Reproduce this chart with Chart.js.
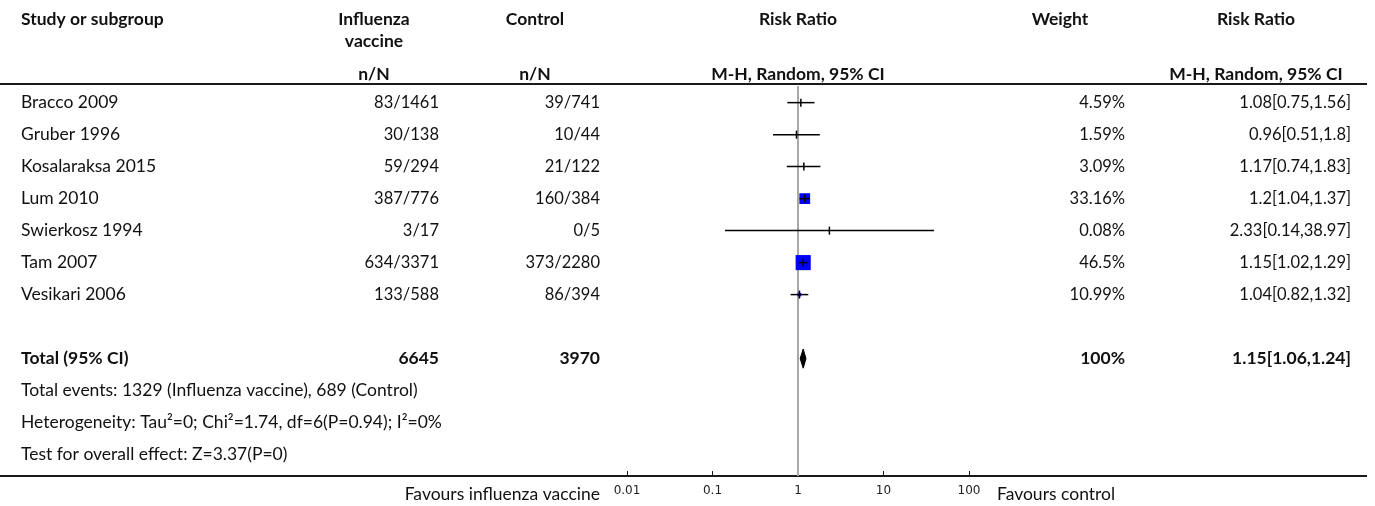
<!DOCTYPE html>
<html>
<head>
<meta charset="utf-8">
<script src="https://cdn.jsdelivr.net/npm/chart.js@4.4.0/dist/chart.umd.min.js"></script>
<style>
html,body{margin:0;padding:0;background:#fff;overflow:hidden}
canvas{display:block}
</style>
</head>
<body>
<canvas id="c" width="1375" height="506"></canvas>
<script>
// ---------- data ----------
const studies = ['Bracco 2009','Gruber 1996','Kosalaraksa 2015','Lum 2010','Swierkosz 1994','Tam 2007','Vesikari 2006'];
const vaccineNN = ['83/1461','30/138','59/294','387/776','3/17','634/3371','133/588'];
const controlNN = ['39/741','10/44','21/122','160/384','0/5','373/2280','86/394'];
const riskRatio = [1.08,0.96,1.17,1.2,2.33,1.15,1.04];
const ciLow = [0.75,0.51,0.74,1.04,0.14,1.02,0.82];
const ciHigh = [1.56,1.8,1.83,1.37,38.97,1.29,1.32];
const weights = [4.59,1.59,3.09,33.16,0.08,46.5,10.99];
const weightLabels = ['4.59%','1.59%','3.09%','33.16%','0.08%','46.5%','10.99%'];
const rrLabels = ['1.08[0.75,1.56]','0.96[0.51,1.8]','1.17[0.74,1.83]','1.2[1.04,1.37]','2.33[0.14,38.97]','1.15[1.02,1.29]','1.04[0.82,1.32]'];
const totalRR = 1.15;
const totalLow = 1.06;
const totalHigh = 1.24;
const totalVaccine = '6645';
const totalControl = '3970';
const totalWeight = '100%';
const totalLabel = '1.15[1.06,1.24]';
const footnotes = [
  'Total events: 1329 (Influenza vaccine), 689 (Control)',
  'Heterogeneity: Tau\u00B2=0; Chi\u00B2=1.74, df=6(P=0.94); I\u00B2=0%',
  'Test for overall effect: Z=3.37(P=0)'
];
const xTicks = [0.01,0.1,1,10,100];
const xTickLabels = ['0.01','0.1','1','10','100'];

// ---------- layout / style constants ----------
const TOTAL_ROW = 8;
const FOOT_ROW0 = 9;
const DIAMOND_HALF = 0.3;        // in row units
const SQUARE_PER_WEIGHT = 0.325; // px side per weight %
const FONT = 'Lato';
const TXT = '#111';

const datasets = [];
// line of no effect
datasets.push({
  data: [{x:1,y:-0.52},{x:1,y:11.67}],
  showLine: true, borderColor: '#a8a8a8', borderWidth: 2, pointRadius: 0, order: 10
});
// weight squares
datasets.push({
  data: riskRatio.map((v,i)=>({x:v,y:i})),
  pointStyle: 'rect',
  pointRadius: weights.map(w => w*SQUARE_PER_WEIGHT/Math.SQRT2),
  backgroundColor: '#0000ff', borderWidth: 0, order: 9
});
// CI lines
studies.forEach((s,i)=>{
  datasets.push({
    data: [{x:ciLow[i],y:i},{x:ciHigh[i],y:i}],
    showLine: true, borderColor: '#000', borderWidth: 1.5, pointRadius: 0, order: 5
  });
});
// point estimate ticks
datasets.push({
  data: riskRatio.map((v,i)=>({x:v,y:i})),
  pointStyle: 'line', rotation: 90, pointRadius: 4,
  borderColor: '#000', borderWidth: 1.5, order: 3
});
// pooled diamond
datasets.push({
  data: [
    {x:totalLow,y:TOTAL_ROW},
    {x:totalRR,y:TOTAL_ROW-DIAMOND_HALF},
    {x:totalHigh,y:TOTAL_ROW},
    {x:totalRR,y:TOTAL_ROW+DIAMOND_HALF},
    {x:totalLow,y:TOTAL_ROW}
  ],
  showLine: true, fill: 'shape', backgroundColor: '#000', borderColor: '#000',
  borderWidth: 1, pointRadius: 0, tension: 0, order: 1
});

const tablePlugin = {
  id: 'table',
  afterDraw(chart) {
    const ctx = chart.ctx;
    const ys = chart.scales.y;
    const xa = chart.chartArea;
    const rowY = r => ys.getPixelForValue(r);
    ctx.save();
    ctx.fillStyle = TXT;
    ctx.textBaseline = 'middle';
    // kind: 'b' bold, 't' regular text, 'n' regular numbers
    const txt = (s,x,y,align,kind) => {
      if (kind === 'b') ctx.font = 'bold 17.5px ' + FONT;
      else if (kind === 'n') ctx.font = '16.5px ' + FONT;
      else ctx.font = '17.5px ' + FONT;
      ctx.textAlign = align;
      ctx.fillText(s,x,y);
    };
    // header
    txt('Study or subgroup', 21, 19, 'left', 'b');
    txt('Influenza', 374, 19, 'center', 'b');
    txt('vaccine', 374, 41, 'center', 'b');
    txt('Control', 535, 19, 'center', 'b');
    txt('Risk Ratio', 798, 19, 'center', 'b');
    txt('Weight', 1060, 19, 'center', 'b');
    txt('Risk Ratio', 1256, 19, 'center', 'b');
    txt('n/N', 374, 74, 'center', 'b');
    txt('n/N', 535, 74, 'center', 'b');
    txt('M-H, Random, 95% CI', 798, 74, 'center', 'b');
    txt('M-H, Random, 95% CI', 1256, 74, 'center', 'b');
    // rows
    studies.forEach((s,i)=>{
      const y = rowY(i);
      txt(s, 21, y, 'left', 't');
      txt(vaccineNN[i], 439, y, 'right', 'n');
      txt(controlNN[i], 600, y, 'right', 'n');
      txt(weightLabels[i], 1125, y, 'right', 'n');
      txt(rrLabels[i], 1351, y, 'right', 'n');
    });
    const ty = rowY(TOTAL_ROW);
    txt('Total (95% CI)', 21, ty, 'left', 'b');
    txt(totalVaccine, 439, ty, 'right', 'b');
    txt(totalControl, 600, ty, 'right', 'b');
    txt(totalWeight, 1125, ty, 'right', 'b');
    txt(totalLabel, 1351, ty, 'right', 'b');
    footnotes.forEach((f,k)=> txt(f, 21, rowY(FOOT_ROW0+k), 'left', 't'));
    // bottom labels
    txt('Favours influenza vaccine', 600, 494, 'right', 't');
    txt('Favours control', 997, 494, 'left', 't');
    // table rules
    ctx.strokeStyle = '#1a1a1a';
    ctx.lineWidth = 2;
    ctx.beginPath();
    ctx.moveTo(0, 84); ctx.lineTo(1367, 84);
    ctx.moveTo(0, xa.bottom); ctx.lineTo(xa.left, xa.bottom);
    ctx.moveTo(xa.right, xa.bottom); ctx.lineTo(1367, xa.bottom);
    ctx.stroke();
    ctx.restore();
  }
};

new Chart(document.getElementById('c'), {
  type: 'scatter',
  data: { datasets },
  options: {
    responsive: false,
    devicePixelRatio: 1,
    animation: false,
    events: [],
    layout: { padding: { left: 627, right: 406, top: 86, bottom: 0 } },
    plugins: { legend: { display: false }, tooltip: { enabled: false } },
    scales: {
      x: {
        type: 'logarithmic', min: 0.01, max: 100, position: 'bottom',
        afterBuildTicks: s => { s.ticks = xTicks.map(v => ({ value: v })); },
        afterFit: s => { s.height = 30; },
        border: { display: true, color: '#1a1a1a', width: 2 },
        grid: { display: true, drawOnChartArea: false, drawTicks: true, tickLength: -5, tickColor: '#1a1a1a', tickWidth: 1 },
        ticks: {
          callback: (v, i) => xTickLabels[i],
          font: { family: 'DejaVu Sans', size: 12 },
          color: '#222', padding: 13, maxRotation: 0, autoSkip: false
        }
      },
      y: { type: 'linear', display: false, reverse: true, min: -0.52, max: 11.67 }
    }
  },
  plugins: [tablePlugin]
});
</script>
</body>
</html>
